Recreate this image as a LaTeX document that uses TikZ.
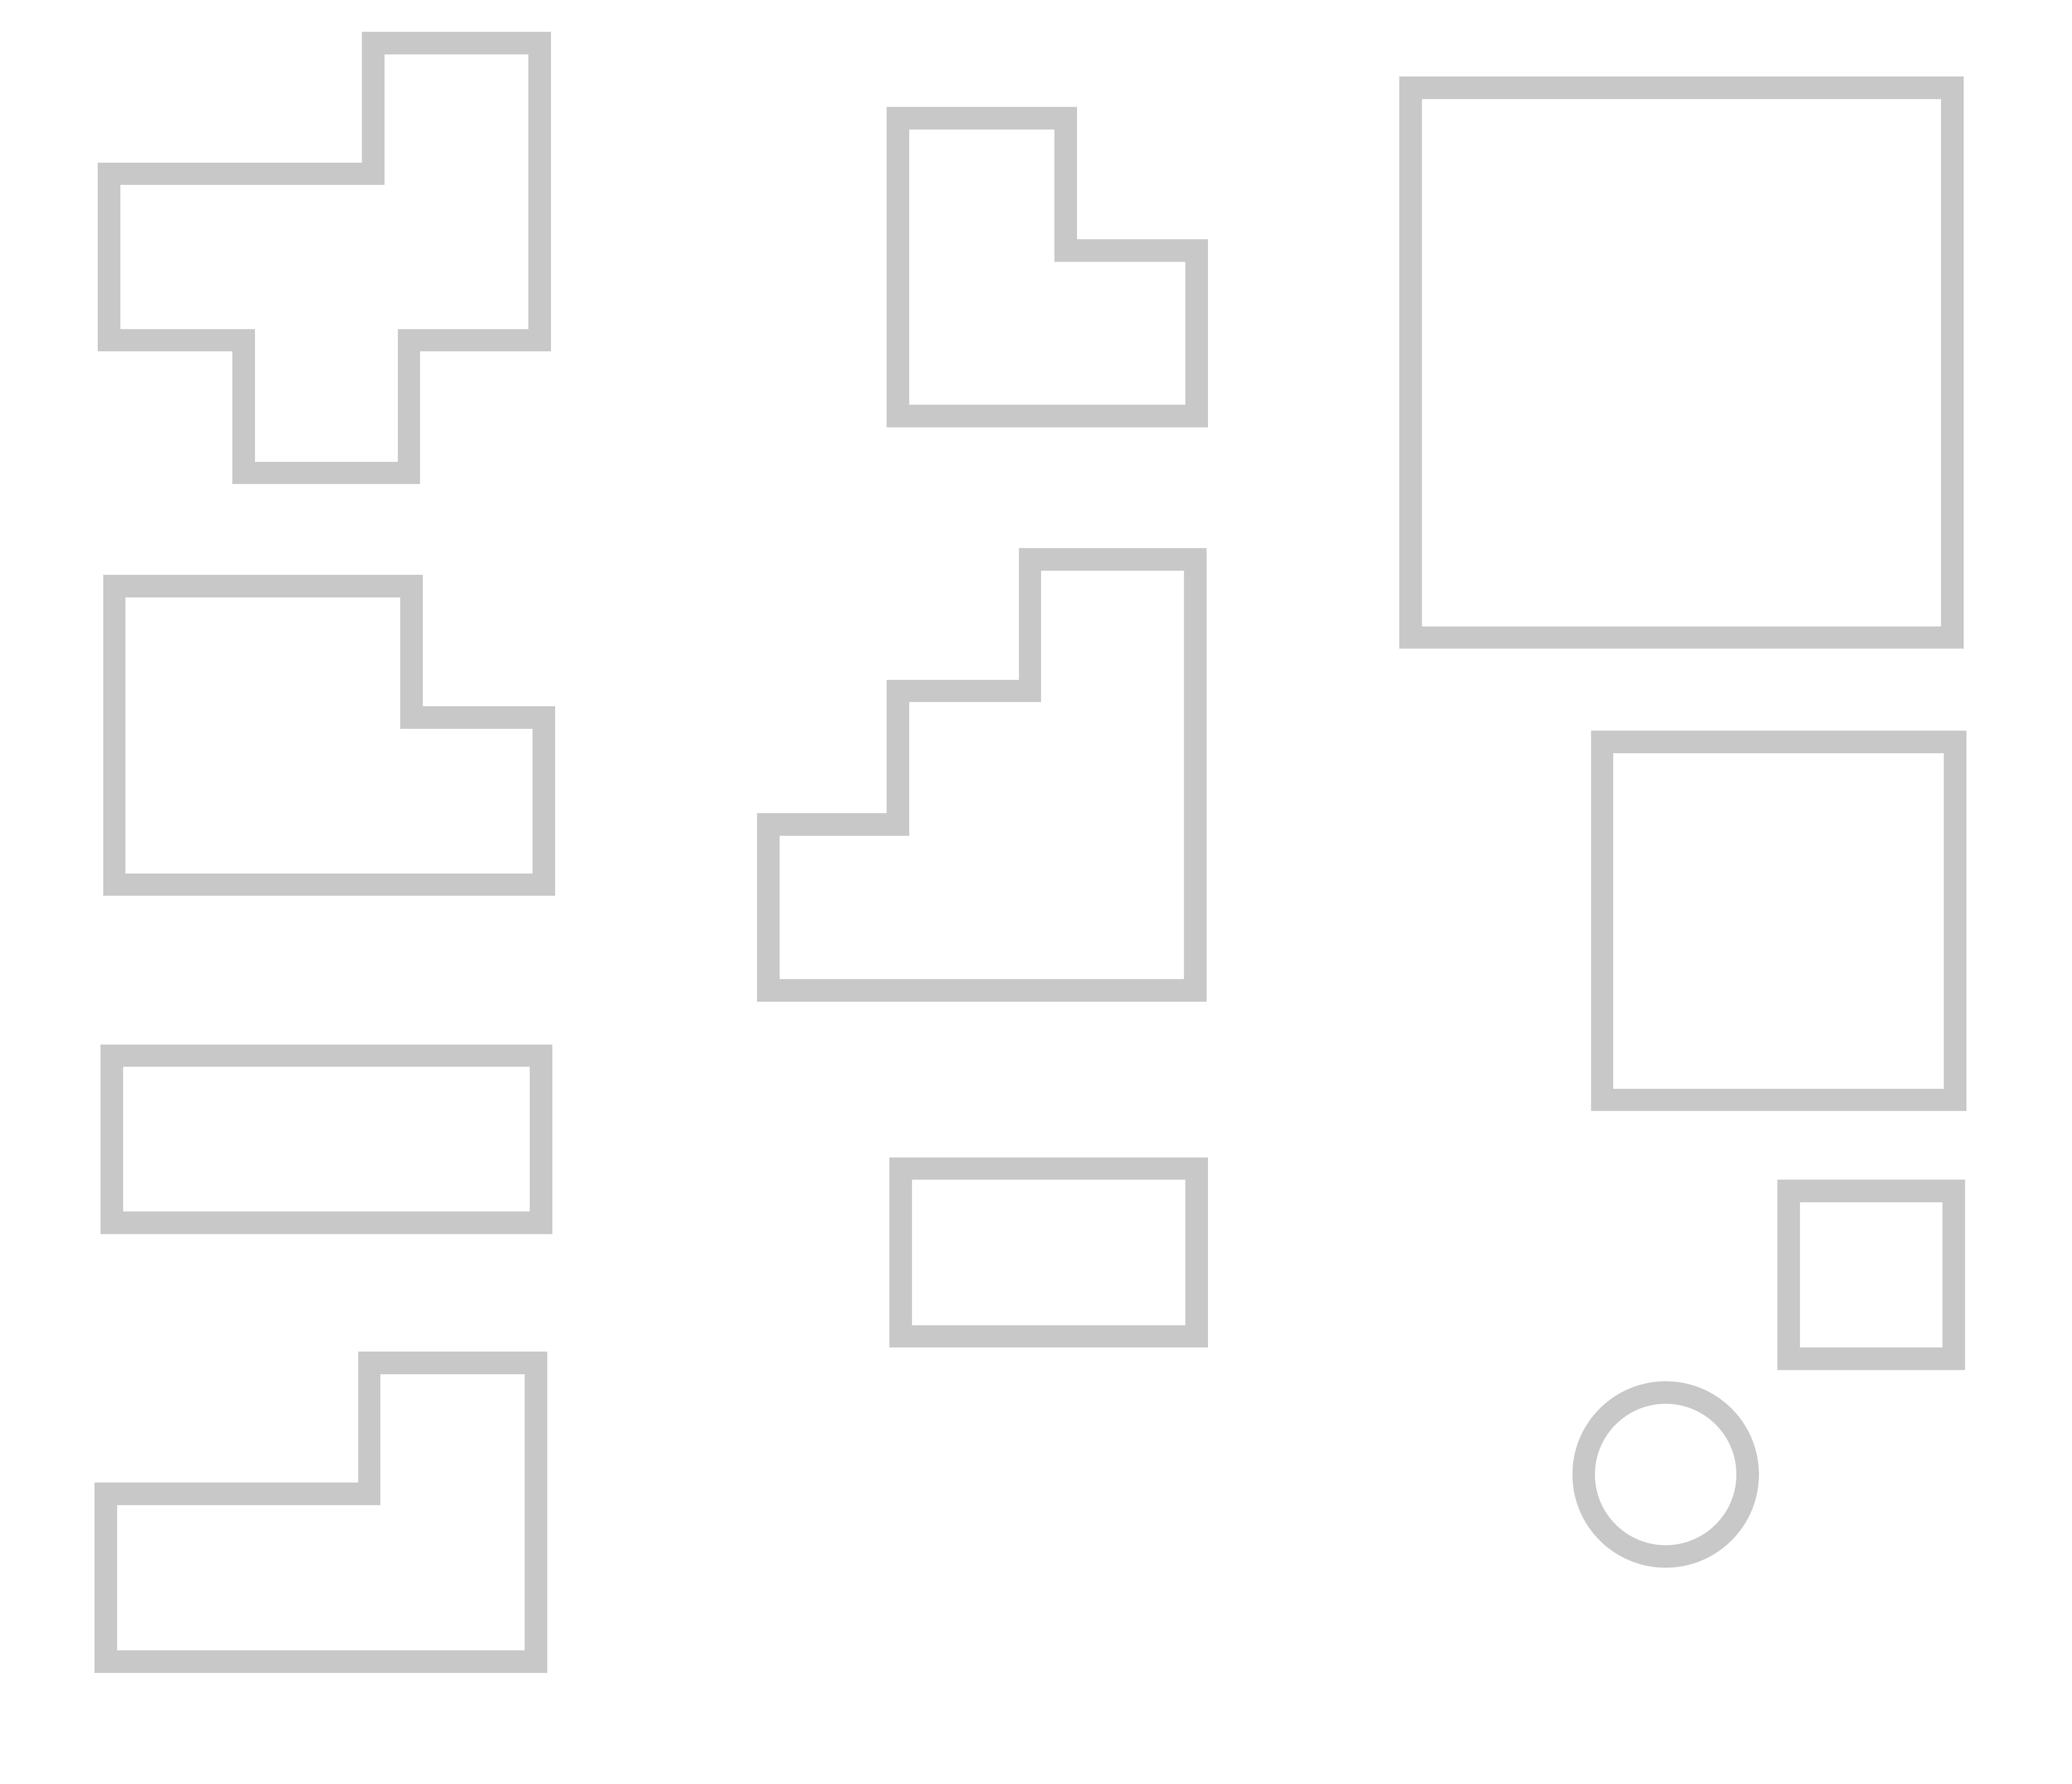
\documentclass[tikz,border=0pt]{standalone}
\usepackage{tikz}

\begin{document}
\begin{tikzpicture}[x=0.01cm, y=-0.01cm,
        piece/.style = {draw=pieceGray,
        line width = 0.17cm,
        line join = miter}]

        \definecolor{pieceGray}{RGB}{200,200,200}
        \useasboundingbox (0,0) rectangle (1568,1350);

        % Cross piece
        \draw [piece] (282.5,32.5) -- (408.5,32.5) -- (408.5,257.5) -- (309.5,257.5)
            -- (309.5,358) -- (184.5,358) -- (184.5,257.5) -- (82.5,257.5)
            -- (82.5,131.5) -- (282.5,131.5) -- cycle;

        % Corner piece, top
        \draw [piece] (679.5,89.5) -- (806.5,89.5) -- (806.5,189.5) -- (905.5,189.5)
            -- (905.5,315) -- (679.5,315) -- cycle;

        % Big square
        \draw [piece] (1067.5,66.5) rectangle (1477.5,482.5);

        % Corner piece, left
        \draw [piece] (86.5,443.5) -- (311.5,443.5) -- (311.5,543) -- (411.5,543)
            -- (411.5,669.5) -- (86.5,669.5) -- cycle;

        % Stairs piece
        \draw [piece] (779.5,423.5) -- (904.5,423.5) -- (904.5,749.5) -- (581.5,749.5)
            -- (581.5,624) -- (679.5,624) -- (679.5,523) -- (779.5,523) -- cycle;

        % Middle square
        \draw [piece] (1212.5,561.5) rectangle (1479.5,832.5);

        % Long bar
        \draw [piece] (84.5,799) rectangle (409.5,925.5);

        % Short bar
        \draw [piece] (681.5,884.5) rectangle (905.5,1011.5);

        % Small square
        \draw [piece] (1353.5,901.5) rectangle (1478.5,1028.5);

        % Circle
        \draw [piece] (1260.5,1116) circle (0.62cm);

        % Corner piece, bottom
        \draw [piece] (279.5,1031.5) -- (405.5,1031.5) -- (405.5,1257.5) -- (80,1257.5)
            -- (80,1130.5) -- (279.5,1130.5) -- cycle;

    \end{tikzpicture}
\end{document}
